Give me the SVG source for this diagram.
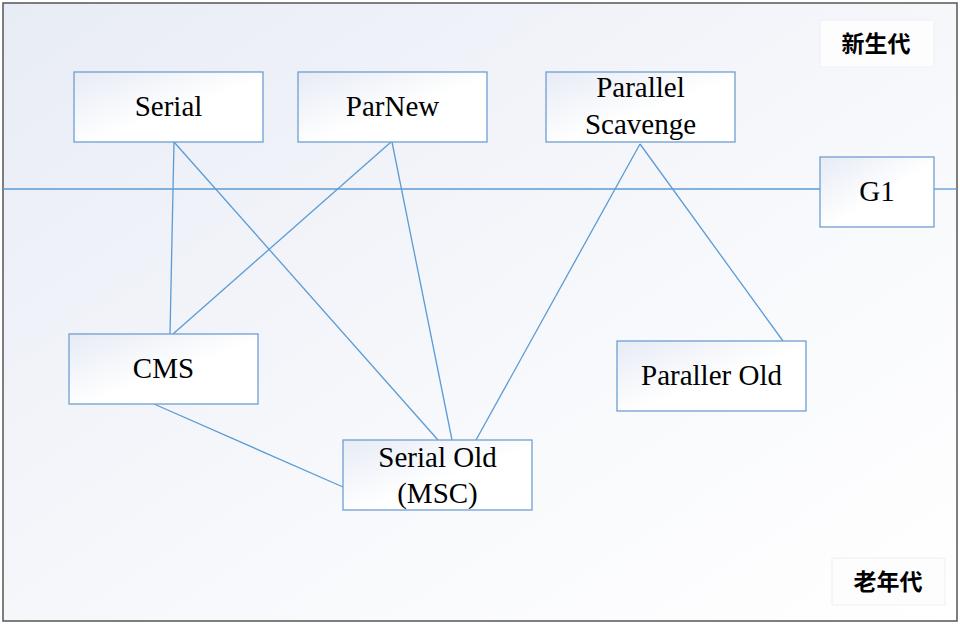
<svg xmlns="http://www.w3.org/2000/svg" width="960" height="625" viewBox="0 0 960 625">
<defs>
<linearGradient id="bg" x1="0" y1="0" x2="1" y2="1">
<stop offset="0" stop-color="#e8ecf5"/>
<stop offset="0.6" stop-color="#f8f9fc"/>
<stop offset="1" stop-color="#ffffff"/>
</linearGradient>
<linearGradient id="box" x1="0" y1="0" x2="1" y2="1">
<stop offset="0" stop-color="#e6ebf5"/>
<stop offset="0.55" stop-color="#ffffff"/>
<stop offset="1" stop-color="#ffffff"/>
</linearGradient>
<style>
.n{fill:url(#box);stroke:#6f9fd2;stroke-width:1.3}
.lbl{fill:#fdfdfe;stroke:#eef0f6;stroke-width:1}
.t{font-family:"Liberation Serif","Times New Roman",serif;font-size:29px;fill:#000;text-anchor:middle}
.c{font-family:"Noto Sans CJK SC","Noto Sans",sans-serif;font-size:23px;font-weight:bold;fill:#000;text-anchor:middle}
.e{stroke:#5b9bd5;stroke-width:1.3;fill:none}
</style>
</defs>
<rect x="3" y="3" width="954" height="618" fill="url(#bg)" stroke="#555" stroke-width="1.5"/>
<g id="connectors">
<line class="e" x1="3" y1="189" x2="820" y2="189"/>
<line class="e" x1="934" y1="189" x2="957" y2="189"/>
<line class="e" x1="174" y1="142" x2="170" y2="334"/>
<line class="e" x1="174" y1="142" x2="438" y2="440"/>
<line class="e" x1="391" y1="142" x2="173" y2="334"/>
<line class="e" x1="392" y1="142" x2="452" y2="440"/>
<line class="e" x1="640" y1="144" x2="476" y2="440"/>
<line class="e" x1="640" y1="144" x2="783" y2="341"/>
<line class="e" x1="154" y1="404" x2="343" y2="487"/>
</g>
<g id="label-young">
<rect class="lbl" x="820" y="20" width="114" height="47"/>
<text class="c" x="876" y="52">新生代</text>
</g>
<g id="label-old">
<rect class="lbl" x="832" y="558" width="113" height="47"/>
<text class="c" x="888" y="590">老年代</text>
</g>
<g id="serial">
<rect class="n" x="74" y="72" width="189" height="70"/>
<text class="t" x="168.5" y="116">Serial</text>
</g>
<g id="parnew">
<rect class="n" x="298" y="72" width="189" height="70"/>
<text class="t" x="392.5" y="116">ParNew</text>
</g>
<g id="parallel-scavenge">
<rect class="n" x="546" y="72" width="189" height="70"/>
<text class="t" x="640.5" y="97">Parallel</text>
<text class="t" x="640.5" y="134">Scavenge</text>
</g>
<g id="g1">
<rect class="n" x="820" y="157" width="114" height="70"/>
<text class="t" x="877" y="201">G1</text>
</g>
<g id="cms">
<rect class="n" x="69" y="334" width="189" height="70"/>
<text class="t" x="163.5" y="378">CMS</text>
</g>
<g id="paraller-old">
<rect class="n" x="617" y="341" width="189" height="70"/>
<text class="t" x="711.5" y="385">Paraller Old</text>
</g>
<g id="serial-old">
<rect class="n" x="343" y="440" width="189" height="70"/>
<text class="t" x="437.5" y="467">Serial Old</text>
<text class="t" x="437.5" y="503">(MSC)</text>
</g>
</svg>
